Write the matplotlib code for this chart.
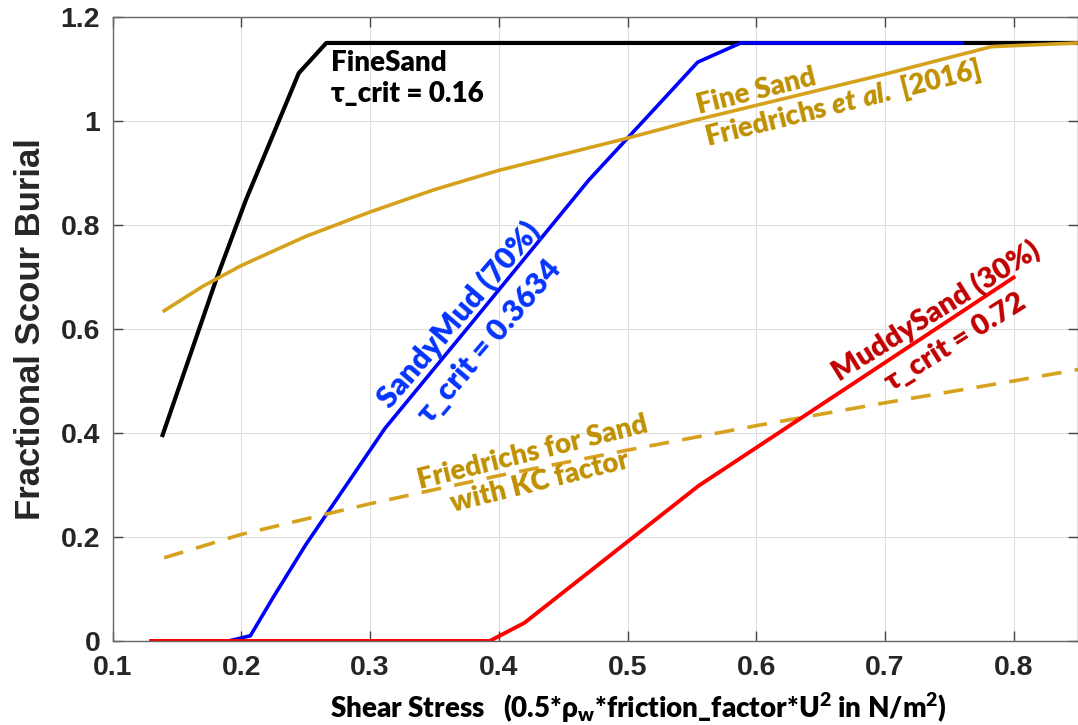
import matplotlib
matplotlib.use("Agg")
import matplotlib.pyplot as plt

# --- data ---
fine_x = [0.1388, 0.1803, 0.2035, 0.2446, 0.266, 0.85]
fine_y = [0.396, 0.694, 0.848, 1.092, 1.15, 1.15]

sandy_x = [0.13, 0.19, 0.207, 0.225, 0.25, 0.3116, 0.3778, 0.47, 0.5545, 0.588, 0.76]
sandy_y = [0.0, 0.0, 0.01, 0.085, 0.185, 0.409, 0.608, 0.8865, 1.113, 1.15, 1.15]

muddy_x = [0.13, 0.393, 0.42, 0.555, 0.80]
muddy_y = [0.0, 0.0, 0.035, 0.298, 0.699]

fried_x = [0.14, 0.17, 0.2, 0.25, 0.3, 0.35, 0.4, 0.45, 0.5, 0.55, 0.6, 0.65, 0.7, 0.75, 0.783, 0.85]
fried_y = [0.635, 0.682, 0.722, 0.778, 0.825, 0.868, 0.905, 0.936, 0.967, 1.0, 1.03, 1.06, 1.09, 1.122, 1.143, 1.15]

kc_x = [0.14, 0.2, 0.3, 0.4, 0.5, 0.6, 0.7, 0.8, 0.85]
kc_y = [0.16, 0.205, 0.264, 0.318, 0.367, 0.414, 0.458, 0.50, 0.522]

xticks = [0.1, 0.2, 0.3, 0.4, 0.5, 0.6, 0.7, 0.8]
xtick_labels = ["0.1", "0.2", "0.3", "0.4", "0.5", "0.6", "0.7", "0.8"]
yticks = [0, 0.2, 0.4, 0.6, 0.8, 1.0, 1.2]
ytick_labels = ["0", "0.2", "0.4", "0.6", "0.8", "1", "1.2"]

GOLD = "#D6A21E"
GOLD_TXT = "#BF9000"
WEIGHT = "heavy"

plt.rcParams["mathtext.fontset"] = "custom"
plt.rcParams["mathtext.rm"] = "Lato:heavy"
plt.rcParams["mathtext.it"] = "Lato:italic:heavy"
plt.rcParams["mathtext.bf"] = "Lato:heavy"

ann_font = ["Lato", "DejaVu Sans"]

fig = plt.figure(figsize=(10.78, 7.25), dpi=100)
ax = fig.add_axes([0.1045, 0.1159, 0.8955, 0.8607])

ax.plot(fine_x, fine_y, color="black", lw=3.0)
ax.plot(sandy_x, sandy_y, color="#0000FF", lw=2.6)
ax.plot(fried_x, fried_y, color=GOLD, lw=2.6)
ax.plot(kc_x, kc_y, color=GOLD, lw=2.6, dashes=(5.5, 3.7))
ax.plot(muddy_x, muddy_y, color="#FF0000", lw=2.8)

ax.set_xlim(0.1, 0.85)
ax.set_ylim(0, 1.2)
ax.set_xticks(xticks)
ax.set_xticklabels(xtick_labels)
ax.set_yticks(yticks)
ax.set_yticklabels(ytick_labels)

ax.grid(True, color="#dedede", lw=0.8)
ax.set_axisbelow(True)
for s in ax.spines.values():
    s.set_color("#666666")
    s.set_linewidth(1.0)
ax.tick_params(direction="in", length=7, width=1, color="#444444",
               top=True, right=True, labelcolor="#262626")
ax.tick_params(axis="x", pad=10)
ax.tick_params(axis="y", pad=9)
for lab in ax.get_xticklabels() + ax.get_yticklabels():
    lab.set_fontfamily("Liberation Sans")
    lab.set_fontweight("bold")
    lab.set_fontsize(20.5)

ax.set_ylabel("Fractional Scour Burial", fontfamily="Liberation Sans",
              fontweight="bold", fontsize=25, color="#262626")
ax.yaxis.set_label_coords(-0.068, 0.5)
ax.set_xlabel(r"Shear Stress   (0.5*$\mathrm{\rho}_\mathrm{w}$*friction_factor*U$^\mathrm{2}$ in N/m$^\mathrm{2}$)",
              fontfamily=ann_font, fontweight=WEIGHT, fontsize=20, color="black")
ax.xaxis.set_label_coords(0.545, -0.08)

# annotations
ax.text(0.27, 1.137, "FineSand\nτ_crit = 0.16", color="black", fontsize=20,
        fontweight=WEIGHT, family=ann_font, ha="left", va="top", linespacing=1.25)

ax.text(0.5612, 0.9596, "Fine Sand\n" + r"Friedrichs $\mathit{et\ al.}$ [2016]",
        color=GOLD_TXT, fontsize=20, fontweight=WEIGHT, family=ann_font,
        ha="left", va="baseline", rotation=14, rotation_mode="anchor",
        multialignment="left", linespacing=1.2)

ax.text(0.3808, 0.6018, "SandyMud (70%)\nτ_crit = 0.3634", color="#0433FF",
        fontsize=22, fontweight=WEIGHT, family=ann_font, ha="center", va="center",
        rotation=49.5, rotation_mode="anchor", multialignment="center", linespacing=1.5)

ax.text(0.7470, 0.6050, "MuddySand (30%)\nτ_crit = 0.72", color="#C00000",
        fontsize=21, fontweight=WEIGHT, family=ann_font, ha="center", va="center",
        rotation=32, rotation_mode="anchor", multialignment="center", linespacing=1.5)

ax.text(0.4292, 0.3346, "Friedrichs for Sand\nwith KC factor", color=GOLD_TXT,
        fontsize=20, fontweight=WEIGHT, family=ann_font, ha="center", va="center",
        rotation=14, rotation_mode="anchor", multialignment="center", linespacing=1.2)

fig.savefig("out.png", dpi=100)
